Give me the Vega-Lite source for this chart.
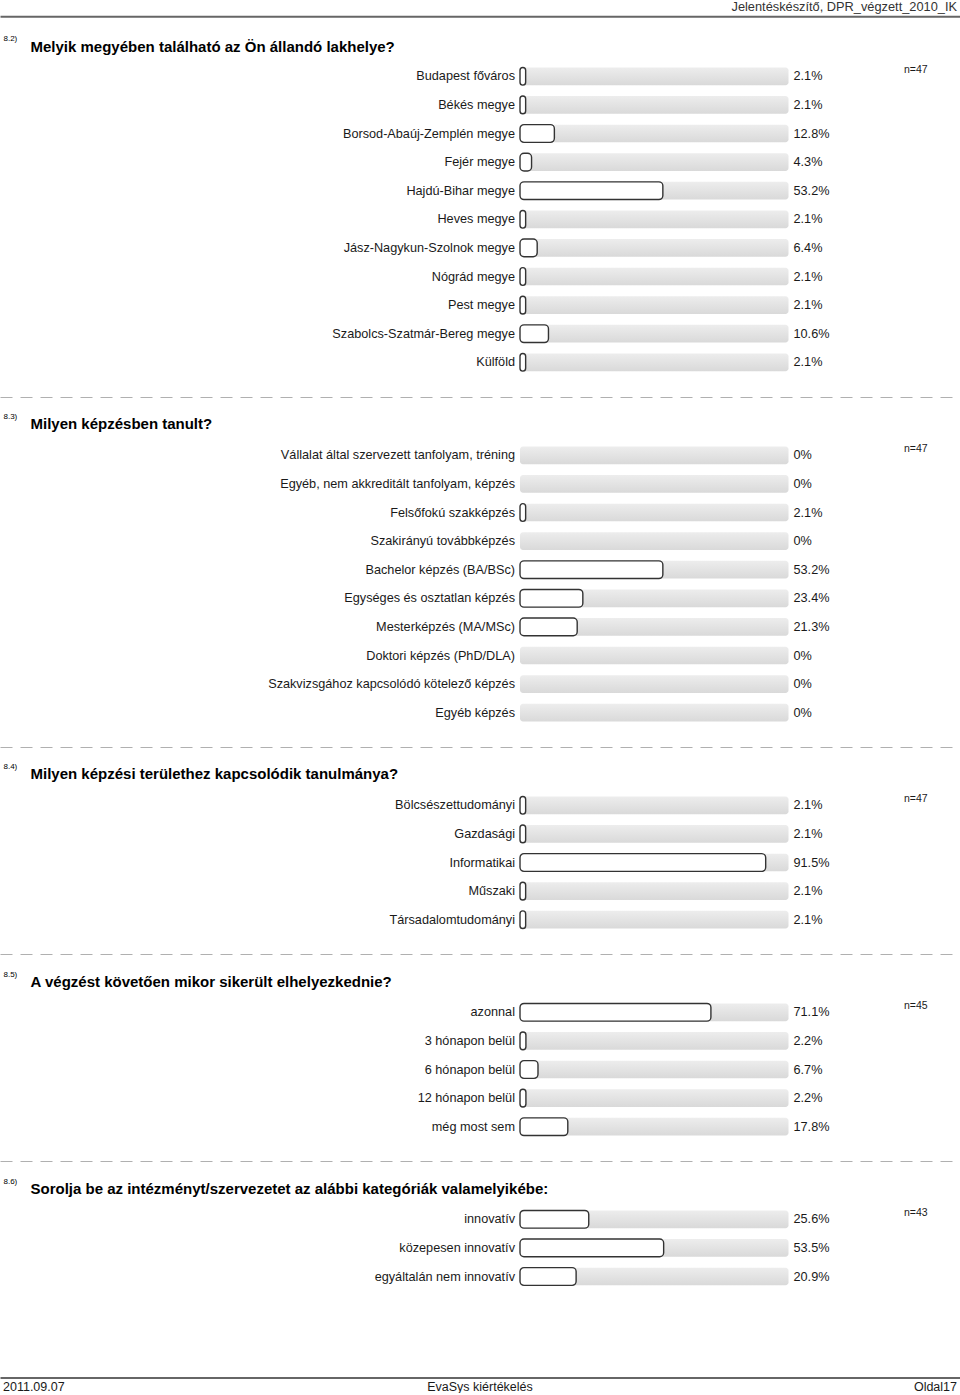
{
  "$schema": "https://vega.github.io/schema/vega-lite/v6.json",
  "padding": 0,
  "background": "white",
  "title": {"text": "Jelentéskészítő, DPR_végzett_2010_IK", "anchor": "end", "frame": "bounds", "offset": 3, "dx": -3, "fontSize": 12.8, "fontWeight": "normal", "color": "#333333", "font": "Liberation Sans"},
  "spacing": 86.5,
  "vconcat": [
    {
      "spacing": 20,
      "vconcat": [
        {
          "width": 960,
          "height": {"step": 28.6},
          "data": {"values": [
            {"option": "Budapest főváros", "share": 0.021},
            {"option": "Békés megye", "share": 0.021},
            {"option": "Borsod-Abaúj-Zemplén megye", "share": 0.128},
            {"option": "Fejér megye", "share": 0.043},
            {"option": "Hajdú-Bihar megye", "share": 0.532},
            {"option": "Heves megye", "share": 0.021},
            {"option": "Jász-Nagykun-Szolnok megye", "share": 0.064},
            {"option": "Nógrád megye", "share": 0.021},
            {"option": "Pest megye", "share": 0.021},
            {"option": "Szabolcs-Szatmár-Bereg megye", "share": 0.106},
            {"option": "Külföld", "share": 0.021}
          ]},
          "layer": [
            {
              "mark": {"type": "bar", "cornerRadius": 3, "fill": {"gradient": "linear", "x1": 0, "y1": 0, "x2": 0, "y2": 1, "stops": [{"offset": 0, "color": "#ededed"}, {"offset": 1, "color": "#d9d9d9"}]}},
              "encoding": {
                "y": {"field": "option", "type": "nominal", "sort": null, "scale": {"paddingInner": 0.38, "paddingOuter": 0.19},
                      "axis": {"title": "8.2)", "titleAngle": 0, "titleX": 3, "titleY": -23.5, "titleAlign": "left", "titleBaseline": "middle", "titleFontSize": 8, "titleFontWeight": "normal", "titleColor": "#000000", "domain": false, "labels": false, "ticks": false, "grid": false}},
                "x": {"datum": 0, "type": "quantitative", "scale": {"domain": [-1.9367, 1.6387], "nice": false, "zero": false},
                      "axis": {"orient": "top", "offset": 45.7, "domain": true, "domainColor": "#666666", "domainWidth": 2, "labels": false, "ticks": false, "grid": false,
                               "title": "Melyik megyében található az Ön állandó lakhelye?", "titleX": 30, "titleY": 30, "titleAlign": "left", "titleBaseline": "middle", "titleFontSize": 15, "titleFontWeight": "bold", "titleColor": "#000000"}},
                "x2": {"datum": 1}
              }
            },
            {
              "transform": [{"filter": "datum.share > 0"}],
              "mark": {"type": "bar", "cornerRadius": 4, "fill": "white", "stroke": "#333333", "strokeWidth": 1.4},
              "encoding": {
                "y": {"field": "option", "type": "nominal", "sort": null},
                "x": {"field": "share", "type": "quantitative"},
                "x2": {"datum": 0}
              }
            },
            {
              "mark": {"type": "text", "align": "right", "dx": -5, "fontSize": 12.7, "color": "#1a1a1a"},
              "encoding": {
                "y": {"field": "option", "type": "nominal", "sort": null},
                "x": {"datum": 0, "type": "quantitative"},
                "text": {"field": "option"}
              }
            },
            {
              "mark": {"type": "text", "align": "left", "dx": 5, "fontSize": 12.7, "color": "#1a1a1a"},
              "encoding": {
                "y": {"field": "option", "type": "nominal", "sort": null},
                "x": {"datum": 1, "type": "quantitative"},
                "text": {"field": "share", "type": "quantitative", "format": ".1~%"}
              }
            },
            {
              "transform": [{"window": [{"op": "row_number", "as": "rank"}]}, {"filter": "datum.rank == 1"}],
              "mark": {"type": "text", "align": "left", "dy": -6.5, "fontSize": 10.5, "color": "#1a1a1a"},
              "encoding": {
                "y": {"field": "option", "type": "nominal", "sort": null},
                "x": {"datum": 1.43, "type": "quantitative"},
                "text": {"value": "n=47"}
              }
            }
          ]
        },
        {
          "width": 960,
          "height": {"step": 28.6},
          "data": {"values": [
            {"option": "Vállalat által szervezett tanfolyam, tréning", "share": 0},
            {"option": "Egyéb, nem akkreditált tanfolyam, képzés", "share": 0},
            {"option": "Felsőfokú szakképzés", "share": 0.021},
            {"option": "Szakirányú továbbképzés", "share": 0},
            {"option": "Bachelor képzés (BA/BSc)", "share": 0.532},
            {"option": "Egységes és osztatlan képzés", "share": 0.234},
            {"option": "Mesterképzés (MA/MSc)", "share": 0.213},
            {"option": "Doktori képzés (PhD/DLA)", "share": 0},
            {"option": "Szakvizsgához kapcsolódó kötelező képzés", "share": 0},
            {"option": "Egyéb képzés", "share": 0}
          ]},
          "layer": [
            {
              "mark": {"type": "bar", "cornerRadius": 3, "fill": {"gradient": "linear", "x1": 0, "y1": 0, "x2": 0, "y2": 1, "stops": [{"offset": 0, "color": "#ededed"}, {"offset": 1, "color": "#d9d9d9"}]}},
              "encoding": {
                "y": {"field": "option", "type": "nominal", "sort": null, "scale": {"paddingInner": 0.38, "paddingOuter": 0.19},
                      "axis": {"title": "8.3)", "titleAngle": 0, "titleX": 3, "titleY": -24.5, "titleAlign": "left", "titleBaseline": "middle", "titleFontSize": 8, "titleFontWeight": "normal", "titleColor": "#000000", "domain": false, "labels": false, "ticks": false, "grid": false}},
                "x": {"datum": 0, "type": "quantitative", "scale": {"domain": [-1.9367, 1.6387], "nice": false, "zero": false},
                      "axis": {"orient": "top", "offset": 44, "domain": true, "domainColor": "#b0b0b0", "domainWidth": 1, "domainDash": [12, 8], "labels": false, "ticks": false, "grid": false,
                               "title": "Milyen képzésben tanult?", "titleX": 30, "titleY": 26, "titleAlign": "left", "titleBaseline": "middle", "titleFontSize": 15, "titleFontWeight": "bold", "titleColor": "#000000"}},
                "x2": {"datum": 1}
              }
            },
            {
              "transform": [{"filter": "datum.share > 0"}],
              "mark": {"type": "bar", "cornerRadius": 4, "fill": "white", "stroke": "#333333", "strokeWidth": 1.4},
              "encoding": {
                "y": {"field": "option", "type": "nominal", "sort": null},
                "x": {"field": "share", "type": "quantitative"},
                "x2": {"datum": 0}
              }
            },
            {
              "mark": {"type": "text", "align": "right", "dx": -5, "fontSize": 12.7, "color": "#1a1a1a"},
              "encoding": {
                "y": {"field": "option", "type": "nominal", "sort": null},
                "x": {"datum": 0, "type": "quantitative"},
                "text": {"field": "option"}
              }
            },
            {
              "mark": {"type": "text", "align": "left", "dx": 5, "fontSize": 12.7, "color": "#1a1a1a"},
              "encoding": {
                "y": {"field": "option", "type": "nominal", "sort": null},
                "x": {"datum": 1, "type": "quantitative"},
                "text": {"field": "share", "type": "quantitative", "format": ".1~%"}
              }
            },
            {
              "transform": [{"window": [{"op": "row_number", "as": "rank"}]}, {"filter": "datum.rank == 1"}],
              "mark": {"type": "text", "align": "left", "dy": -6.5, "fontSize": 10.5, "color": "#1a1a1a"},
              "encoding": {
                "y": {"field": "option", "type": "nominal", "sort": null},
                "x": {"datum": 1.43, "type": "quantitative"},
                "text": {"value": "n=47"}
              }
            }
          ]
        },
        {
          "width": 960,
          "height": {"step": 28.6},
          "data": {"values": [
            {"option": "Bölcsészettudományi", "share": 0.021},
            {"option": "Gazdasági", "share": 0.021},
            {"option": "Informatikai", "share": 0.915},
            {"option": "Műszaki", "share": 0.021},
            {"option": "Társadalomtudományi", "share": 0.021}
          ]},
          "layer": [
            {
              "mark": {"type": "bar", "cornerRadius": 3, "fill": {"gradient": "linear", "x1": 0, "y1": 0, "x2": 0, "y2": 1, "stops": [{"offset": 0, "color": "#ededed"}, {"offset": 1, "color": "#d9d9d9"}]}},
              "encoding": {
                "y": {"field": "option", "type": "nominal", "sort": null, "scale": {"paddingInner": 0.38, "paddingOuter": 0.19},
                      "axis": {"title": "8.4)", "titleAngle": 0, "titleX": 3, "titleY": -24.5, "titleAlign": "left", "titleBaseline": "middle", "titleFontSize": 8, "titleFontWeight": "normal", "titleColor": "#000000", "domain": false, "labels": false, "ticks": false, "grid": false}},
                "x": {"datum": 0, "type": "quantitative", "scale": {"domain": [-1.9367, 1.6387], "nice": false, "zero": false},
                      "axis": {"orient": "top", "offset": 44, "domain": true, "domainColor": "#b0b0b0", "domainWidth": 1, "domainDash": [12, 8], "labels": false, "ticks": false, "grid": false,
                               "title": "Milyen képzési területhez kapcsolódik tanulmánya?", "titleX": 30, "titleY": 26, "titleAlign": "left", "titleBaseline": "middle", "titleFontSize": 15, "titleFontWeight": "bold", "titleColor": "#000000"}},
                "x2": {"datum": 1}
              }
            },
            {
              "transform": [{"filter": "datum.share > 0"}],
              "mark": {"type": "bar", "cornerRadius": 4, "fill": "white", "stroke": "#333333", "strokeWidth": 1.4},
              "encoding": {
                "y": {"field": "option", "type": "nominal", "sort": null},
                "x": {"field": "share", "type": "quantitative"},
                "x2": {"datum": 0}
              }
            },
            {
              "mark": {"type": "text", "align": "right", "dx": -5, "fontSize": 12.7, "color": "#1a1a1a"},
              "encoding": {
                "y": {"field": "option", "type": "nominal", "sort": null},
                "x": {"datum": 0, "type": "quantitative"},
                "text": {"field": "option"}
              }
            },
            {
              "mark": {"type": "text", "align": "left", "dx": 5, "fontSize": 12.7, "color": "#1a1a1a"},
              "encoding": {
                "y": {"field": "option", "type": "nominal", "sort": null},
                "x": {"datum": 1, "type": "quantitative"},
                "text": {"field": "share", "type": "quantitative", "format": ".1~%"}
              }
            },
            {
              "transform": [{"window": [{"op": "row_number", "as": "rank"}]}, {"filter": "datum.rank == 1"}],
              "mark": {"type": "text", "align": "left", "dy": -6.5, "fontSize": 10.5, "color": "#1a1a1a"},
              "encoding": {
                "y": {"field": "option", "type": "nominal", "sort": null},
                "x": {"datum": 1.43, "type": "quantitative"},
                "text": {"value": "n=47"}
              }
            }
          ]
        },
        {
          "width": 960,
          "height": {"step": 28.6},
          "data": {"values": [
            {"option": "azonnal", "share": 0.711},
            {"option": "3 hónapon belül", "share": 0.022},
            {"option": "6 hónapon belül", "share": 0.067},
            {"option": "12 hónapon belül", "share": 0.022},
            {"option": "még most sem", "share": 0.178}
          ]},
          "layer": [
            {
              "mark": {"type": "bar", "cornerRadius": 3, "fill": {"gradient": "linear", "x1": 0, "y1": 0, "x2": 0, "y2": 1, "stops": [{"offset": 0, "color": "#ededed"}, {"offset": 1, "color": "#d9d9d9"}]}},
              "encoding": {
                "y": {"field": "option", "type": "nominal", "sort": null, "scale": {"paddingInner": 0.38, "paddingOuter": 0.19},
                      "axis": {"title": "8.5)", "titleAngle": 0, "titleX": 3, "titleY": -23.5, "titleAlign": "left", "titleBaseline": "middle", "titleFontSize": 8, "titleFontWeight": "normal", "titleColor": "#000000", "domain": false, "labels": false, "ticks": false, "grid": false}},
                "x": {"datum": 0, "type": "quantitative", "scale": {"domain": [-1.9367, 1.6387], "nice": false, "zero": false},
                      "axis": {"orient": "top", "offset": 44, "domain": true, "domainColor": "#b0b0b0", "domainWidth": 1, "domainDash": [12, 8], "labels": false, "ticks": false, "grid": false,
                               "title": "A végzést követően mikor sikerült elhelyezkednie?", "titleX": 30, "titleY": 27.5, "titleAlign": "left", "titleBaseline": "middle", "titleFontSize": 15, "titleFontWeight": "bold", "titleColor": "#000000"}},
                "x2": {"datum": 1}
              }
            },
            {
              "transform": [{"filter": "datum.share > 0"}],
              "mark": {"type": "bar", "cornerRadius": 4, "fill": "white", "stroke": "#333333", "strokeWidth": 1.4},
              "encoding": {
                "y": {"field": "option", "type": "nominal", "sort": null},
                "x": {"field": "share", "type": "quantitative"},
                "x2": {"datum": 0}
              }
            },
            {
              "mark": {"type": "text", "align": "right", "dx": -5, "fontSize": 12.7, "color": "#1a1a1a"},
              "encoding": {
                "y": {"field": "option", "type": "nominal", "sort": null},
                "x": {"datum": 0, "type": "quantitative"},
                "text": {"field": "option"}
              }
            },
            {
              "mark": {"type": "text", "align": "left", "dx": 5, "fontSize": 12.7, "color": "#1a1a1a"},
              "encoding": {
                "y": {"field": "option", "type": "nominal", "sort": null},
                "x": {"datum": 1, "type": "quantitative"},
                "text": {"field": "share", "type": "quantitative", "format": ".1~%"}
              }
            },
            {
              "transform": [{"window": [{"op": "row_number", "as": "rank"}]}, {"filter": "datum.rank == 1"}],
              "mark": {"type": "text", "align": "left", "dy": -6.5, "fontSize": 10.5, "color": "#1a1a1a"},
              "encoding": {
                "y": {"field": "option", "type": "nominal", "sort": null},
                "x": {"datum": 1.43, "type": "quantitative"},
                "text": {"value": "n=45"}
              }
            }
          ]
        },
        {
          "width": 960,
          "height": {"step": 28.6},
          "data": {"values": [
            {"option": "innovatív", "share": 0.256},
            {"option": "közepesen innovatív", "share": 0.535},
            {"option": "egyáltalán nem innovatív", "share": 0.209}
          ]},
          "layer": [
            {
              "mark": {"type": "bar", "cornerRadius": 3, "fill": {"gradient": "linear", "x1": 0, "y1": 0, "x2": 0, "y2": 1, "stops": [{"offset": 0, "color": "#ededed"}, {"offset": 1, "color": "#d9d9d9"}]}},
              "encoding": {
                "y": {"field": "option", "type": "nominal", "sort": null, "scale": {"paddingInner": 0.38, "paddingOuter": 0.19},
                      "axis": {"title": "8.6)", "titleAngle": 0, "titleX": 3, "titleY": -23.5, "titleAlign": "left", "titleBaseline": "middle", "titleFontSize": 8, "titleFontWeight": "normal", "titleColor": "#000000", "domain": false, "labels": false, "ticks": false, "grid": false}},
                "x": {"datum": 0, "type": "quantitative", "scale": {"domain": [-1.9367, 1.6387], "nice": false, "zero": false},
                      "axis": {"orient": "top", "offset": 44, "domain": true, "domainColor": "#b0b0b0", "domainWidth": 1, "domainDash": [12, 8], "labels": false, "ticks": false, "grid": false,
                               "title": "Sorolja be az intézményt/szervezetet az alábbi kategóriák valamelyikébe:", "titleX": 30, "titleY": 27.5, "titleAlign": "left", "titleBaseline": "middle", "titleFontSize": 15, "titleFontWeight": "bold", "titleColor": "#000000"}},
                "x2": {"datum": 1}
              }
            },
            {
              "transform": [{"filter": "datum.share > 0"}],
              "mark": {"type": "bar", "cornerRadius": 4, "fill": "white", "stroke": "#333333", "strokeWidth": 1.4},
              "encoding": {
                "y": {"field": "option", "type": "nominal", "sort": null},
                "x": {"field": "share", "type": "quantitative"},
                "x2": {"datum": 0}
              }
            },
            {
              "mark": {"type": "text", "align": "right", "dx": -5, "fontSize": 12.7, "color": "#1a1a1a"},
              "encoding": {
                "y": {"field": "option", "type": "nominal", "sort": null},
                "x": {"datum": 0, "type": "quantitative"},
                "text": {"field": "option"}
              }
            },
            {
              "mark": {"type": "text", "align": "left", "dx": 5, "fontSize": 12.7, "color": "#1a1a1a"},
              "encoding": {
                "y": {"field": "option", "type": "nominal", "sort": null},
                "x": {"datum": 1, "type": "quantitative"},
                "text": {"field": "share", "type": "quantitative", "format": ".1~%"}
              }
            },
            {
              "transform": [{"window": [{"op": "row_number", "as": "rank"}]}, {"filter": "datum.rank == 1"}],
              "mark": {"type": "text", "align": "left", "dy": -6.5, "fontSize": 10.5, "color": "#1a1a1a"},
              "encoding": {
                "y": {"field": "option", "type": "nominal", "sort": null},
                "x": {"datum": 1.43, "type": "quantitative"},
                "text": {"value": "n=43"}
              }
            }
          ]
        }
      ]
    },
    {
      "width": 960,
      "height": 12,
      "data": {"values": [{"item": "2011.09.07"}, {"item": "EvaSys kiértékelés"}, {"item": "Oldal17"}]},
      "encoding": {
        "x": {"field": "item", "type": "nominal", "sort": null, "scale": {"type": "point", "padding": 0},
              "axis": {"orient": "top", "offset": 3, "domain": true, "domainColor": "#666666", "domainWidth": 2, "labels": false, "ticks": false, "grid": false, "title": null}},
        "text": {"field": "item"}
      },
      "layer": [
        {"transform": [{"filter": "datum.item == '2011.09.07'"}], "mark": {"type": "text", "align": "left", "dx": 3, "fontSize": 12.5, "color": "#1a1a1a"}},
        {"transform": [{"filter": "datum.item == 'EvaSys kiértékelés'"}], "mark": {"type": "text", "align": "center", "fontSize": 12.5, "color": "#1a1a1a"}},
        {"transform": [{"filter": "datum.item == 'Oldal17'"}], "mark": {"type": "text", "align": "right", "dx": -3, "fontSize": 12.5, "color": "#1a1a1a"}}
      ]
    }
  ],
  "config": {
    "view": {"stroke": null},
    "font": "Liberation Sans",
    "axis": {"grid": false}
  }
}
